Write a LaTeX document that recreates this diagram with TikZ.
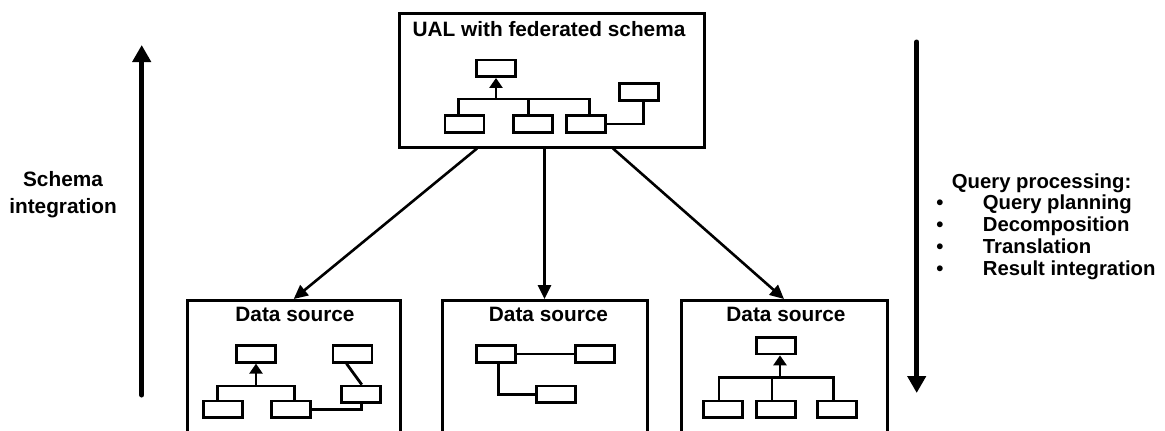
\documentclass[tikz,border=0pt]{standalone}
\usepackage{fontspec}
\setmainfont{Liberation Sans}
\usetikzlibrary{arrows.meta}
\begin{document}
\begin{tikzpicture}[x=1pt,y=-1pt,
  frame/.style={draw, line width=3pt, inner sep=0pt},
  sbox/.style={draw, line width=2.8pt, minimum width=39pt, minimum height=16.5pt, inner sep=0pt},
  link/.style={line width=2.8pt},
  thinlink/.style={line width=2pt},
  tip/.style={-{Triangle[length=10pt,width=13pt]}},
  feed/.style={line width=2.6pt, -{Triangle[length=14pt,width=13pt]}},
  flow/.style={line width=5pt, line cap=round, -{Triangle[length=17pt,width=18pt]}},
  lbl/.style={font=\bfseries\fontsize{20.8}{25}\selectfont, inner sep=0pt},
  item/.style={font=\bfseries\fontsize{20.3}{24}\selectfont, inner sep=0pt, anchor=base west},
]
\useasboundingbox (0,0) rectangle (1165,431);
\clip (0,0) rectangle (1165,431);

% federated layer
\node[frame, minimum width=305pt, minimum height=134pt] (ual) at (551.5,80) {};
\node[lbl, anchor=base] (ualT) at (549,36) {UAL with federated schema};
\node[sbox] (u0) at (496,68.3) {};
\node[sbox] (u1) at (464.5,124) {};
\node[sbox] (u2) at (532.7,124) {};
\node[sbox] (u3) at (585.8,124) {};
\node[sbox] (u4) at (639.3,92) {};
\coordinate (ubus) at (496,99);
\draw[link] ([xshift=-6pt]u1.north) |- (ubus) -| ([xshift=4pt]u3.north);
\draw[link] ([xshift=-4pt]u2.north) -- ([xshift=-4pt]u2.north |- ubus);
\draw[link,tip] (ubus) -- (u0.south);
\draw[link] (u3.east) -| ([xshift=4pt]u4.south);

% data sources
\node[frame, minimum width=213pt, minimum height=150pt, anchor=north] (ds1) at (293.7,299) {};
\node[frame, minimum width=205pt, minimum height=150pt, anchor=north] (ds2) at (544.5,299) {};
\node[frame, minimum width=206pt, minimum height=150pt, anchor=north] (ds3) at (784,299) {};
\node[lbl, anchor=base] (ds1T) at (295,321.7) {Data source};
\node[lbl, anchor=base] (ds2T) at (548.5,321.7) {Data source};
\node[lbl, anchor=base] (ds3T) at (786,321.7) {Data source};

\draw[feed] ([xshift=-74.5pt]ual.south) -- (ds1.north);
\draw[feed] ([xshift=-7pt]ual.south) -- (ds2.north);
\draw[feed] ([xshift=61.5pt]ual.south) -- (ds3.north);

% source 1
\node[sbox] (a0) at (256,354) {};
\node[sbox] (a1) at (223.2,409.3) {};
\node[sbox] (a2) at (291.2,409.3) {};
\node[sbox] (a3) at (352.5,354) {};
\node[sbox] (a4) at (360.8,394.3) {};
\coordinate (abus) at (256,386);
\draw[link] ([xshift=-6pt]a1.north) |- (abus) -| ([xshift=3pt]a2.north);
\draw[link,tip] (abus) -- (a0.south);
\draw[link] ([xshift=-6pt]a3.south) -- ([xshift=1pt]a4.north);
\draw[link] ([xshift=1pt]a4.south) |- (a2.east);

% source 2
\node[sbox] (b0) at (496.3,354) {};
\node[sbox] (b1) at (595,354) {};
\node[sbox] (b2) at (556.2,394.2) {};
\draw[thinlink] (b0.east) -- (b1.west);
\draw[link] ([xshift=2pt]b0.south) |- (b2.west);

% source 3
\node[sbox] (c0) at (776,345.7) {};
\node[sbox] (c1) at (723.3,409.3) {};
\node[sbox] (c2) at (775.9,409.3) {};
\node[sbox] (c3) at (836.9,409.3) {};
\coordinate (cbus) at (780,377.3);
\draw[link] ([xshift=-4.3pt]c1.north) |- (cbus) -| ([xshift=-3.6pt]c3.north);
\draw[link] ([xshift=-3.9pt]c2.north) -- ([xshift=-3.9pt]c2.north |- cbus);
\draw[link,tip] (cbus) -- ([xshift=4pt]c0.south);

% direction arrows
\coordinate (siBot) at (141.7,395);
\coordinate (siTop) at (141.7,45);
\draw[flow] (siBot) -- (siTop);
\coordinate (qpTop) at (916.7,42);
\coordinate (qpBot) at (916.7,393);
\draw[flow] (qpTop) -- (qpBot);

% side labels
\node[lbl, anchor=base] (si1) at (63,186) {Schema};
\node[lbl, anchor=base] (si2) at (63,213.5) {integration};

\node[item] (qp) at (951.7,188) {Query processing:};
\foreach \k/\txt in {1/Query planning,2/Decomposition,3/Translation,4/Result integration}{
  \node[item, anchor=base] (bul\k) at (940,188+\k*21.8) {\textbullet};
  \node[item] (it\k) at (982.7,188+\k*21.8) {\txt};
}
\end{tikzpicture}
\end{document}
